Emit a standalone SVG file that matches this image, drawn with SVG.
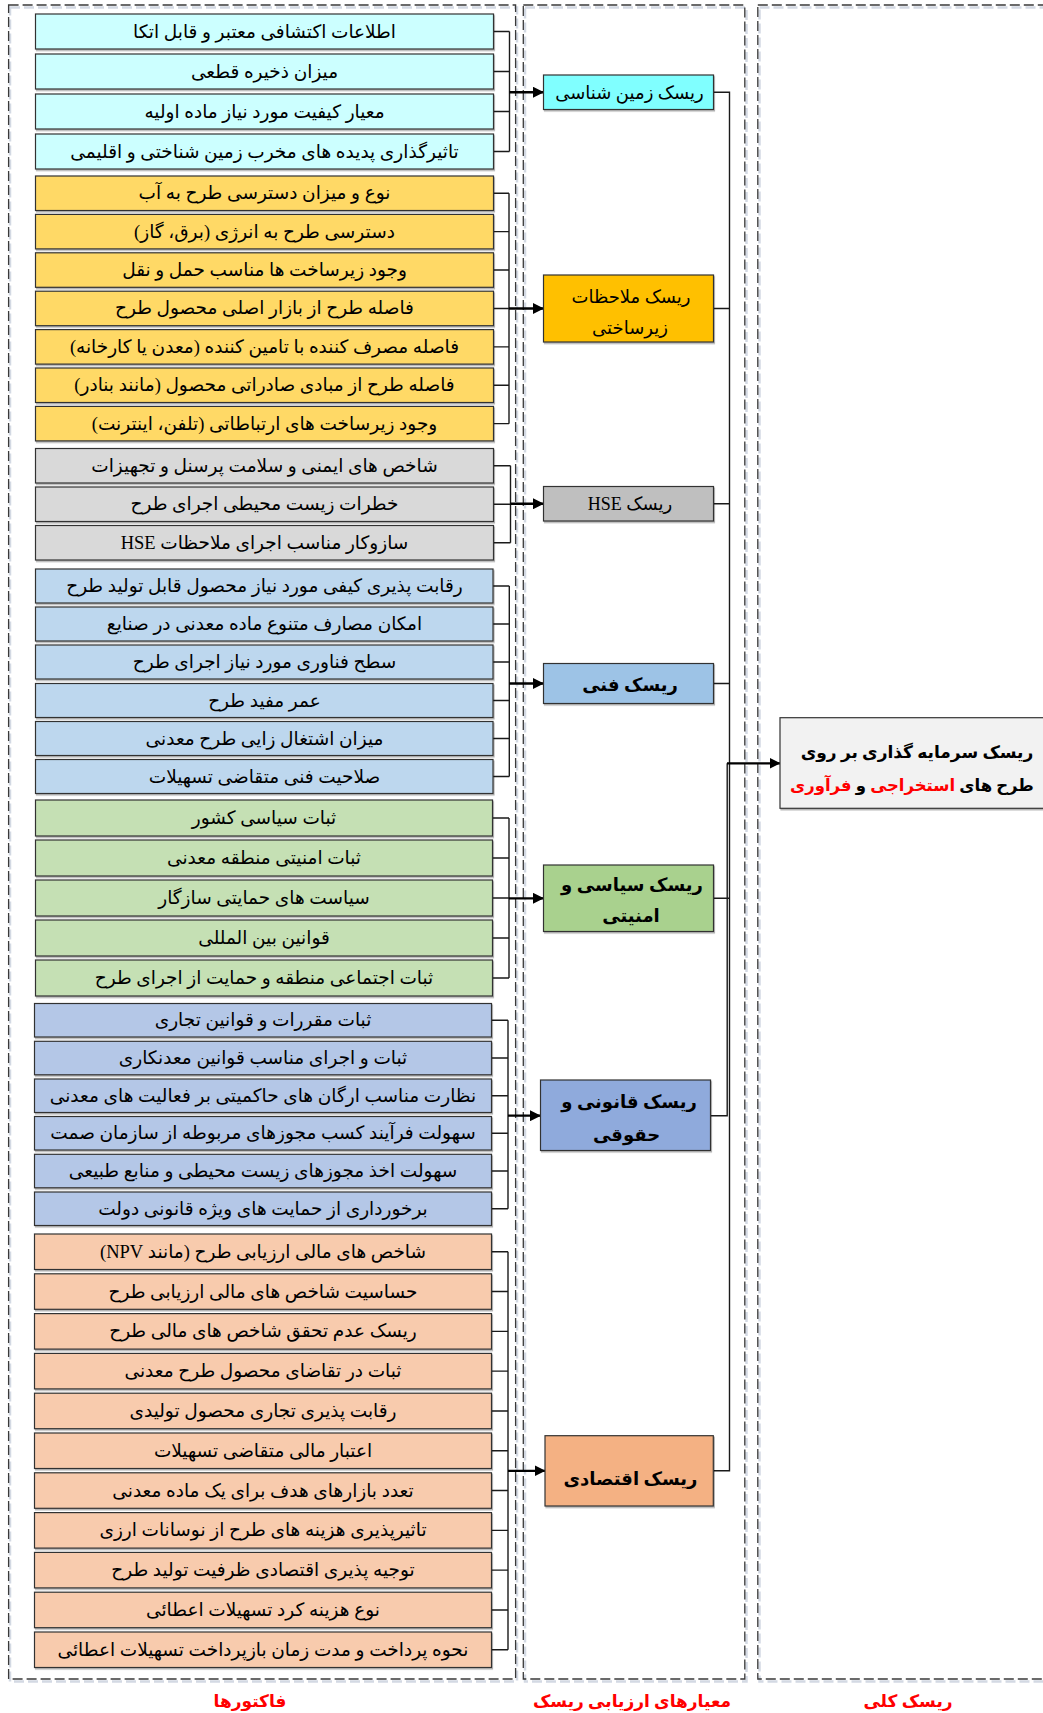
<svg xmlns="http://www.w3.org/2000/svg" width="1043" height="1713" viewBox="0 0 1043 1713">
<style>
.bg{fill:#ffffff}
.col{fill:none;stroke:#3a3a3a;stroke-width:1.3;stroke-dasharray:10 4}
.colsh{fill:none;stroke:#d3d9e3;stroke-width:2.5;stroke-dasharray:10 4}
.box{stroke:#333333;stroke-width:1.2;filter:url(#sh)}
.t{font-family:"Liberation Serif","DejaVu Sans",serif;font-size:18.5px;fill:#000;text-anchor:middle;direction:rtl}
.n{font-family:"Liberation Serif","DejaVu Sans",serif;font-size:18px;fill:#000;text-anchor:middle;direction:rtl}
.b{font-weight:bold}
.lab{font-family:"Liberation Serif","DejaVu Sans",serif;font-size:17px;font-weight:bold;fill:#ff0000;text-anchor:middle;direction:rtl}
.red{fill:#ff0000}
.c1{fill:#ccffff}.c2{fill:#ffd966}.c3{fill:#d9d9d9}.c4{fill:#bdd7ee}.c5{fill:#c5e0b4}.c6{fill:#b4c7e7}.c7{fill:#f8cbad}
.conn path{fill:none;stroke:#1a1a1a;stroke-width:1.4}
.conn path.ar{stroke:#000;stroke-width:2.3;marker-end:url(#ah)}
</style>
<defs>
<filter id="sh" x="-5%" y="-20%" width="110%" height="150%">
<feDropShadow dx="1" dy="1.5" stdDeviation="0.7" flood-color="#000" flood-opacity="0.3"/>
</filter>
<marker id="ah" markerWidth="11" markerHeight="11" refX="10.5" refY="5.5" orient="auto" markerUnits="userSpaceOnUse">
<path d="M0,0 L11,5.5 L0,11 z" fill="#000"/>
</marker>
</defs>
<rect class="bg" x="0" y="0" width="1043" height="1713"/>

<g id="columns">
<rect class="colsh" x="10" y="7.5" width="507" height="1674"/>
<rect class="colsh" x="525" y="7.5" width="221.5" height="1674"/>
<rect class="colsh" x="759.5" y="7.5" width="320" height="1674"/>
<rect class="col" x="8.6" y="5" width="507" height="1674"/>
<rect class="col" x="523.3" y="5" width="221.5" height="1674"/>
<rect class="col" x="757.8" y="5" width="320" height="1674"/>
</g>

<g id="connectors" class="conn">
<path d="M493.5 31.5H509.5M493.5 71.5H509.5M493.5 111.5H509.5M493.5 151.5H509.5M509.5 31.5V151.5"/>
<path d="M493.5 193.25H509M493.5 231.65H509M493.5 270.05H509M493.5 308.45H509M493.5 346.85H509M493.5 385.25H509M493.5 423.65H509M509 193.25V423.65"/>
<path d="M493.5 465.75H510.5M493.5 504.25H510.5M493.5 542.75H510.5M510.5 465.75V542.75"/>
<path d="M493 586H509.3M493 624H509.3M493 662H509.3M493 700.5H509.3M493 738.5H509.3M493 776.5H509.3M509.3 586V776.5"/>
<path d="M492.5 818H509M492.5 858H509M492.5 898H509M492.5 938H509M492.5 978H509M509 818V978"/>
<path d="M491.5 1020.25H508M491.5 1058.05H508M491.5 1095.75H508M491.5 1133.25H508M491.5 1171.05H508M491.5 1208.75H508M508 1020.25V1208.75"/>
<path d="M491.5 1251.75H508M491.5 1291.55H508M491.5 1331.35H508M491.5 1371.15H508M491.5 1410.95H508M491.5 1450.75H508M491.5 1490.55H508M491.5 1530.35H508M491.5 1570.15H508M491.5 1609.95H508M491.5 1649.75H508M508 1251.75V1649.75"/>
<path class="ar" d="M509.5 92.25H543.5"/>
<path class="ar" d="M509 308.5H543.5"/>
<path class="ar" d="M510.5 503.75H543.5"/>
<path class="ar" d="M509.3 683.5H543.5"/>
<path class="ar" d="M509 898.3H543.5"/>
<path class="ar" d="M508 1115.7H540.5"/>
<path class="ar" d="M508 1470.8H545"/>
<path d="M713.5 92.25H729.5V1470.8H713.5"/>
<path d="M713.5 308.5H729.5M713.5 503.75H729.5M713.5 683.5H729.5M713.5 898.3H729.5"/>
<path d="M710.5 1115.7H727.2V763.3"/>
<path class="ar" d="M727 763.3H780"/>
</g>

<g id="f-geo-1"><rect class="box c1" x="35.5" y="14" width="458" height="35"/><text class="t" x="264.5" y="37.5">اطلاعات اکتشافی معتبر و قابل اتکا</text></g>
<g id="f-geo-2"><rect class="box c1" x="35.5" y="54" width="458" height="35"/><text class="t" x="264.5" y="77.5">میزان ذخیره قطعی</text></g>
<g id="f-geo-3"><rect class="box c1" x="35.5" y="94" width="458" height="35"/><text class="t" x="264.5" y="117.5">معیار کیفیت مورد نیاز ماده اولیه</text></g>
<g id="f-geo-4"><rect class="box c1" x="35.5" y="134" width="458" height="35"/><text class="t" x="264.5" y="157.5">تاثیرگذاری پدیده های مخرب زمین شناختی و اقلیمی</text></g>

<g id="f-inf-1"><rect class="box c2" x="35.5" y="176" width="458" height="34.5"/><text class="t" x="264.5" y="199.25">نوع و میزان دسترسی طرح به آب</text></g>
<g id="f-inf-2"><rect class="box c2" x="35.5" y="214.4" width="458" height="34.5"/><text class="t" x="264.5" y="237.65">دسترسی طرح به انرژی (برق، گاز)</text></g>
<g id="f-inf-3"><rect class="box c2" x="35.5" y="252.8" width="458" height="34.5"/><text class="t" x="264.5" y="276.05">وجود زیرساخت ها مناسب حمل و نقل</text></g>
<g id="f-inf-4"><rect class="box c2" x="35.5" y="291.2" width="458" height="34.5"/><text class="t" x="264.5" y="314.45">فاصله طرح از بازار اصلی محصول طرح</text></g>
<g id="f-inf-5"><rect class="box c2" x="35.5" y="329.6" width="458" height="34.5"/><text class="t" x="264.5" y="352.85">فاصله مصرف کننده با تامین کننده (معدن یا کارخانه)</text></g>
<g id="f-inf-6"><rect class="box c2" x="35.5" y="368" width="458" height="34.5"/><text class="t" x="264.5" y="391.25">فاصله طرح از مبادی صادراتی محصول (مانند بنادر)</text></g>
<g id="f-inf-7"><rect class="box c2" x="35.5" y="406.4" width="458" height="34.5"/><text class="t" x="264.5" y="429.65">وجود زیرساخت های ارتباطاتی (تلفن، اینترنت)</text></g>

<g id="f-hse-1"><rect class="box c3" x="35.5" y="448.5" width="458" height="34.5"/><text class="t" x="264.5" y="471.75">شاخص های ایمنی و سلامت پرسنل و تجهیزات</text></g>
<g id="f-hse-2"><rect class="box c3" x="35.5" y="487" width="458" height="34.5"/><text class="t" x="264.5" y="510.25">خطرات زیست محیطی اجرای طرح</text></g>
<g id="f-hse-3"><rect class="box c3" x="35.5" y="525.5" width="458" height="34.5"/><text class="t" x="264.5" y="548.75">سازوکار مناسب اجرای ملاحظات HSE</text></g>

<g id="f-tec-1"><rect class="box c4" x="35.5" y="569" width="457.5" height="34"/><text class="t" x="264.5" y="592">رقابت پذیری کیفی مورد نیاز محصول قابل تولید طرح</text></g>
<g id="f-tec-2"><rect class="box c4" x="35.5" y="607" width="457.5" height="34"/><text class="t" x="264.5" y="630">امکان مصارف متنوع ماده معدنی در صنایع</text></g>
<g id="f-tec-3"><rect class="box c4" x="35.5" y="645" width="457.5" height="34"/><text class="t" x="264.5" y="668">سطح فناوری مورد نیاز اجرای طرح</text></g>
<g id="f-tec-4"><rect class="box c4" x="35.5" y="683.5" width="457.5" height="34"/><text class="t" x="264.5" y="706.5">عمر مفید طرح</text></g>
<g id="f-tec-5"><rect class="box c4" x="35.5" y="721.5" width="457.5" height="34"/><text class="t" x="264.5" y="744.5">میزان اشتغال زایی طرح معدنی</text></g>
<g id="f-tec-6"><rect class="box c4" x="35.5" y="759.5" width="457.5" height="34"/><text class="t" x="264.5" y="782.5">صلاحیت فنی متقاضی تسهیلات</text></g>

<g id="f-pol-1"><rect class="box c5" x="35.5" y="800" width="457" height="36"/><text class="t" x="264" y="824">ثبات سیاسی کشور</text></g>
<g id="f-pol-2"><rect class="box c5" x="35.5" y="840" width="457" height="36"/><text class="t" x="264" y="864">ثبات امنیتی منطقه معدنی</text></g>
<g id="f-pol-3"><rect class="box c5" x="35.5" y="880" width="457" height="36"/><text class="t" x="264" y="904">سیاست های حمایتی سازگار</text></g>
<g id="f-pol-4"><rect class="box c5" x="35.5" y="920" width="457" height="36"/><text class="t" x="264" y="944">قوانین بین المللی</text></g>
<g id="f-pol-5"><rect class="box c5" x="35.5" y="960" width="457" height="36"/><text class="t" x="264" y="984">ثبات اجتماعی منطقه و حمایت از اجرای طرح</text></g>

<g id="f-leg-1"><rect class="box c6" x="34.5" y="1003.5" width="457" height="33.5"/><text class="t" x="263" y="1026.25">ثبات مقررات و قوانین تجاری</text></g>
<g id="f-leg-2"><rect class="box c6" x="34.5" y="1041.3" width="457" height="33.5"/><text class="t" x="263" y="1064.05">ثبات و اجرای مناسب قوانین معدنکاری</text></g>
<g id="f-leg-3"><rect class="box c6" x="34.5" y="1079" width="457" height="33.5"/><text class="t" x="263" y="1101.75">نظارت مناسب ارگان های حاکمیتی بر فعالیت های معدنی</text></g>
<g id="f-leg-4"><rect class="box c6" x="34.5" y="1116.5" width="457" height="33.5"/><text class="t" x="263" y="1139.25">سهولت فرآیند کسب مجوزهای مربوطه از سازمان صمت</text></g>
<g id="f-leg-5"><rect class="box c6" x="34.5" y="1154.3" width="457" height="33.5"/><text class="t" x="263" y="1177.05">سهولت اخذ مجوزهای زیست محیطی و منابع طبیعی</text></g>
<g id="f-leg-6"><rect class="box c6" x="34.5" y="1192" width="457" height="33.5"/><text class="t" x="263" y="1214.75">برخورداری از حمایت های ویژه قانونی دولت</text></g>

<g id="f-eco-1"><rect class="box c7" x="34.5" y="1234" width="457" height="35.5"/><text class="t" x="263" y="1257.75">شاخص های مالی ارزیابی طرح (مانند NPV)</text></g>
<g id="f-eco-2"><rect class="box c7" x="34.5" y="1273.8" width="457" height="35.5"/><text class="t" x="263" y="1297.55">حساسیت شاخص های مالی ارزیابی طرح</text></g>
<g id="f-eco-3"><rect class="box c7" x="34.5" y="1313.6" width="457" height="35.5"/><text class="t" x="263" y="1337.35">ریسک عدم تحقق شاخص های مالی طرح</text></g>
<g id="f-eco-4"><rect class="box c7" x="34.5" y="1353.4" width="457" height="35.5"/><text class="t" x="263" y="1377.15">ثبات در تقاضای محصول طرح معدنی</text></g>
<g id="f-eco-5"><rect class="box c7" x="34.5" y="1393.2" width="457" height="35.5"/><text class="t" x="263" y="1416.95">رقابت پذیری تجاری محصول تولیدی</text></g>
<g id="f-eco-6"><rect class="box c7" x="34.5" y="1433" width="457" height="35.5"/><text class="t" x="263" y="1456.75">اعتبار مالی متقاضی تسهیلات</text></g>
<g id="f-eco-7"><rect class="box c7" x="34.5" y="1472.8" width="457" height="35.5"/><text class="t" x="263" y="1496.55">تعدد بازارهای هدف برای یک ماده معدنی</text></g>
<g id="f-eco-8"><rect class="box c7" x="34.5" y="1512.6" width="457" height="35.5"/><text class="t" x="263" y="1536.35">تاثیرپذیری هزینه های طرح از نوسانات ارزی</text></g>
<g id="f-eco-9"><rect class="box c7" x="34.5" y="1552.4" width="457" height="35.5"/><text class="t" x="263" y="1576.15">توجیه پذیری اقتصادی ظرفیت تولید طرح</text></g>
<g id="f-eco-10"><rect class="box c7" x="34.5" y="1592.2" width="457" height="35.5"/><text class="t" x="263" y="1615.95">نوع هزینه کرد تسهیلات اعطائی</text></g>
<g id="f-eco-11"><rect class="box c7" x="34.5" y="1632" width="457" height="35.5"/><text class="t" x="263" y="1655.75">نحوه پرداخت و مدت زمان بازپرداخت تسهیلات اعطائی</text></g>

<g id="n-geo"><rect class="box" fill="#80ffff" x="543.5" y="75" width="170" height="34.5"/><text class="n" x="629.5" y="98.5">ریسک زمین شناسی</text></g>
<g id="n-inf"><rect class="box" fill="#ffc000" x="543.5" y="275" width="170" height="67"/><text class="n" x="631" y="302.5">ریسک ملاحظات</text><text class="n" x="630" y="333.5">زیرساختی</text></g>
<g id="n-hse"><rect class="box" fill="#bfbfbf" x="543.5" y="486.5" width="170" height="34.5"/><text class="n" x="630" y="510">ریسک HSE</text></g>
<g id="n-tec"><rect class="box" fill="#9dc3e6" x="543.5" y="663.5" width="170" height="40"/><text class="n b" x="630" y="690.5">ریسک فنی</text></g>
<g id="n-pol"><rect class="box" fill="#a9d18e" x="543.5" y="865" width="170" height="66.5"/><text class="n b" x="632" y="891">ریسک سیاسی و</text><text class="n b" x="631" y="921.5">امنیتی</text></g>
<g id="n-leg"><rect class="box" fill="#8faadc" x="540.5" y="1080" width="170" height="70.5"/><text class="n b" x="629" y="1108">ریسک قانونی و</text><text class="n b" x="626.5" y="1141">حقوقی</text></g>
<g id="n-eco"><rect class="box" fill="#f4b183" x="545" y="1435.7" width="168.3" height="70.3"/><text class="n b" x="630.5" y="1484.5">ریسک اقتصادی</text></g>

<g id="n-total"><rect class="box" fill="#f2f2f2" stroke="#595959" x="780" y="717.7" width="300" height="90.6"/><text class="n b" x="917" y="757.5" style="font-size:17px">ریسک سرمایه گذاری بر روی</text><text class="n b" x="912" y="791" style="font-size:16.5px">طرح های <tspan class="red">استخراجی</tspan> و <tspan class="red">فرآوری</tspan></text></g>

<g id="labels">
<text class="lab" x="250" y="1707">فاکتورها</text>
<text class="lab" x="632" y="1707">معیارهای ارزیابی ریسک</text>
<text class="lab" x="908" y="1707">ریسک کلی</text>
</g>
</svg>
